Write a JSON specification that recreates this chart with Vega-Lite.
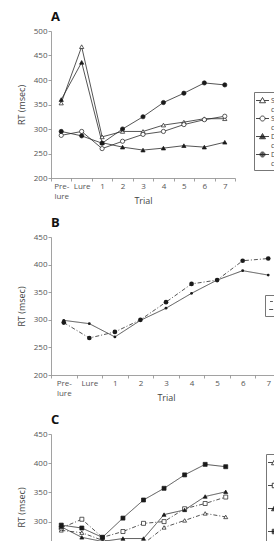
{
  "$schema": "https://vega.github.io/schema/vega-lite/v6.json",
  "padding": {"left": 17, "top": 11, "right": 0, "bottom": 0},
  "spacing": 12,
  "resolve": {
    "scale": {"shape": "independent", "fill": "independent", "strokeDash": "independent", "size": "independent"},
    "legend": {"shape": "independent", "fill": "independent", "strokeDash": "independent", "size": "independent"}
  },
  "config": {
    "view": {"stroke": null},
    "font": "Open Sans",
    "axis": {"domainColor": "#8a8a8a", "tickColor": "#8a8a8a", "domainWidth": 0.8, "tickWidth": 0.8, "tickSize": 3, "labelColor": "#555", "labelFontSize": 8, "labelPadding": 1, "titleFontSize": 9, "titleFontWeight": "normal", "titleColor": "#444", "grid": false},
    "title": {"anchor": "start", "frame": "group", "fontSize": 13, "fontWeight": "bold", "offset": 3, "color": "#111"},
    "legend": {"labelFontSize": 7, "labelColor": "#444", "strokeColor": "#777", "padding": 3, "labelOffset": 3, "title": null, "symbolStrokeWidth": 0.8}
  },
  "datasets": {
    "A": [
      {"t": "Pre-lure", "c": "Same|cue", "rt": 353}, {"t": "Lure", "c": "Same|cue", "rt": 468}, {"t": "1", "c": "Same|cue", "rt": 284}, {"t": "2", "c": "Same|cue", "rt": 295}, {"t": "3", "c": "Same|cue", "rt": 295}, {"t": "4", "c": "Same|cue", "rt": 308}, {"t": "5", "c": "Same|cue", "rt": 314}, {"t": "6", "c": "Same|cue", "rt": 321}, {"t": "7", "c": "Same|cue", "rt": 321},
      {"t": "Pre-lure", "c": "Same|context", "rt": 287}, {"t": "Lure", "c": "Same|context", "rt": 295}, {"t": "1", "c": "Same|context", "rt": 260}, {"t": "2", "c": "Same|context", "rt": 275}, {"t": "3", "c": "Same|context", "rt": 289}, {"t": "4", "c": "Same|context", "rt": 295}, {"t": "5", "c": "Same|context", "rt": 309}, {"t": "6", "c": "Same|context", "rt": 319}, {"t": "7", "c": "Same|context", "rt": 326},
      {"t": "Pre-lure", "c": "Different|cue", "rt": 360}, {"t": "Lure", "c": "Different|cue", "rt": 436}, {"t": "1", "c": "Different|cue", "rt": 272}, {"t": "2", "c": "Different|cue", "rt": 263}, {"t": "3", "c": "Different|cue", "rt": 257}, {"t": "4", "c": "Different|cue", "rt": 261}, {"t": "5", "c": "Different|cue", "rt": 266}, {"t": "6", "c": "Different|cue", "rt": 263}, {"t": "7", "c": "Different|cue", "rt": 273},
      {"t": "Pre-lure", "c": "Different|context", "rt": 295}, {"t": "Lure", "c": "Different|context", "rt": 286}, {"t": "1", "c": "Different|context", "rt": 271}, {"t": "2", "c": "Different|context", "rt": 300}, {"t": "3", "c": "Different|context", "rt": 325}, {"t": "4", "c": "Different|context", "rt": 354}, {"t": "5", "c": "Different|context", "rt": 373}, {"t": "6", "c": "Different|context", "rt": 394}, {"t": "7", "c": "Different|context", "rt": 390}
    ],
    "B": [
      {"t": "Pre-lure", "c": "Same", "rt": 299}, {"t": "Lure", "c": "Same", "rt": 293}, {"t": "1", "c": "Same", "rt": 269}, {"t": "2", "c": "Same", "rt": 299}, {"t": "3", "c": "Same", "rt": 321}, {"t": "4", "c": "Same", "rt": 348}, {"t": "5", "c": "Same", "rt": 372}, {"t": "6", "c": "Same", "rt": 389}, {"t": "7", "c": "Same", "rt": 381},
      {"t": "Pre-lure", "c": "Different", "rt": 295}, {"t": "Lure", "c": "Different", "rt": 267}, {"t": "1", "c": "Different", "rt": 278}, {"t": "2", "c": "Different", "rt": 300}, {"t": "3", "c": "Different", "rt": 332}, {"t": "4", "c": "Different", "rt": 365}, {"t": "5", "c": "Different", "rt": 372}, {"t": "6", "c": "Different", "rt": 407}, {"t": "7", "c": "Different", "rt": 411}
    ],
    "C": [
      {"t": "Pre-lure", "c": "Same|old", "rt": 285}, {"t": "Lure", "c": "Same|old", "rt": 281}, {"t": "1", "c": "Same|old", "rt": 268}, {"t": "2", "c": "Same|old", "rt": 262}, {"t": "3", "c": "Same|old", "rt": 262}, {"t": "4", "c": "Same|old", "rt": 290}, {"t": "5", "c": "Same|old", "rt": 302}, {"t": "6", "c": "Same|old", "rt": 314}, {"t": "7", "c": "Same|old", "rt": 308},
      {"t": "Pre-lure", "c": "Same|young", "rt": 289}, {"t": "Lure", "c": "Same|young", "rt": 304}, {"t": "1", "c": "Same|young", "rt": 273}, {"t": "2", "c": "Same|young", "rt": 283}, {"t": "3", "c": "Same|young", "rt": 297}, {"t": "4", "c": "Same|young", "rt": 300}, {"t": "5", "c": "Same|young", "rt": 322}, {"t": "6", "c": "Same|young", "rt": 331}, {"t": "7", "c": "Same|young", "rt": 342},
      {"t": "Pre-lure", "c": "Different|old", "rt": 291}, {"t": "Lure", "c": "Different|old", "rt": 273}, {"t": "1", "c": "Different|old", "rt": 266}, {"t": "2", "c": "Different|old", "rt": 271}, {"t": "3", "c": "Different|old", "rt": 271}, {"t": "4", "c": "Different|old", "rt": 312}, {"t": "5", "c": "Different|old", "rt": 320}, {"t": "6", "c": "Different|old", "rt": 343}, {"t": "7", "c": "Different|old", "rt": 351},
      {"t": "Pre-lure", "c": "Different|young", "rt": 294}, {"t": "Lure", "c": "Different|young", "rt": 289}, {"t": "1", "c": "Different|young", "rt": 273}, {"t": "2", "c": "Different|young", "rt": 306}, {"t": "3", "c": "Different|young", "rt": 337}, {"t": "4", "c": "Different|young", "rt": 357}, {"t": "5", "c": "Different|young", "rt": 380}, {"t": "6", "c": "Different|young", "rt": 398}, {"t": "7", "c": "Different|young", "rt": 394}
    ]
  },
  "vconcat": [
    {
      "title": {"text": "A"},
      "width": 184,
      "height": 147,
      "data": {"name": "A"},
      "encoding": {
        "x": {"field": "t", "type": "ordinal", "sort": ["Pre-lure", "Lure", "1", "2", "3", "4", "5", "6", "7"], "scale": {"type": "band", "paddingInner": 0, "paddingOuter": 0}, "axis": {"title": "Trial", "labelAngle": 0, "tickBand": "extent", "labelExpr": "datum.value == 'Pre-lure' ? ['Pre-', 'lure'] : datum.value", "labelLineHeight": 10, "titleY": 18, "titleBaseline": "top"}},
        "y": {"field": "rt", "type": "quantitative", "scale": {"domain": [200, 500], "nice": false, "zero": false}, "axis": {"title": "RT (msec)", "values": [200, 250, 300, 350, 400, 450, 500], "titlePadding": 7}}
      },
      "resolve": {"scale": {"shape": "independent"}, "legend": {"shape": "independent"}},
      "layer": [
        {"mark": {"type": "line", "color": "#2a2a2a", "strokeWidth": 0.8}, "encoding": {"detail": {"field": "c"}}},
        {
          "mark": {"type": "point", "filled": true, "stroke": "#1a1a1a", "strokeWidth": 0.7, "size": 18, "opacity": 1},
          "encoding": {
            "shape": {"field": "c", "type": "nominal", "scale": {"domain": ["Same|cue", "Same|context", "Different|cue", "Different|context"], "range": ["triangle-up", "circle", "triangle-up", "circle"]}, "legend": null},
            "fill": {"field": "c", "type": "nominal", "scale": {"domain": ["Same|cue", "Same|context", "Different|cue", "Different|context"], "range": ["white", "white", "#1a1a1a", "#1a1a1a"]}, "legend": null}
          }
        },
        {
          "transform": [{"filter": "datum.rt < 0"}],
          "mark": {"type": "point", "filled": false, "color": "#1a1a1a", "strokeWidth": 0.8, "opacity": 1},
          "encoding": {
            "shape": {"field": "c", "type": "nominal", "scale": {"domain": ["Same|cue", "Same|context", "Different|cue", "Different|context"], "range": [
              "M-1.3,0H-0.35M0.35,0H1.3M0,-0.6L0.6,0.45L-0.6,0.45Z",
              "M-1.3,0H-0.5M0.5,0H1.3M0.5,0A0.5,0.5 0 1,1 -0.5,0A0.5,0.5 0 1,1 0.5,0",
              "M-1.3,0H1.3M0,-0.6L0.6,0.45L-0.6,0.45ZM0,-0.36L0.4,0.33L-0.4,0.33ZM0,-0.13L0.2,0.22L-0.2,0.22Z",
              "M-1.3,0H1.3M0.5,0A0.5,0.5 0 1,1 -0.5,0A0.5,0.5 0 1,1 0.5,0M0.35,0A0.35,0.35 0 1,1 -0.35,0A0.35,0.35 0 1,1 0.35,0M0.2,0A0.2,0.2 0 1,1 -0.2,0A0.2,0.2 0 1,1 0.2,0M0.07,0A0.07,0.07 0 1,1 -0.07,0A0.07,0.07 0 1,1 0.07,0"]},
              "legend": {"orient": "none", "legendX": 203, "legendY": 61, "strokeColor": "#777", "symbolSize": 100, "symbolStrokeWidth": 0.8, "rowPadding": 0, "labelExpr": "split(datum.label, '|')"}}
          }
        }
      ]
    },
    {
      "title": {"text": "B"},
      "width": 230,
      "height": 138,
      "data": {"name": "B"},
      "encoding": {
        "x": {"field": "t", "type": "ordinal", "sort": ["Pre-lure", "Lure", "1", "2", "3", "4", "5", "6", "7"], "scale": {"type": "band", "paddingInner": 0, "paddingOuter": 0}, "axis": {"title": "Trial", "labelAngle": 0, "tickBand": "extent", "labelExpr": "datum.value == 'Pre-lure' ? ['Pre-', 'lure'] : datum.value", "labelLineHeight": 10, "titleY": 18, "titleBaseline": "top"}},
        "y": {"field": "rt", "type": "quantitative", "scale": {"domain": [200, 450], "nice": false, "zero": false}, "axis": {"title": "RT (msec)", "values": [200, 250, 300, 350, 400, 450], "titlePadding": 7}}
      },
      "layer": [
        {"mark": {"type": "line", "color": "#2a2a2a", "strokeWidth": 0.8},
          "encoding": {"strokeDash": {"field": "c", "type": "nominal", "scale": {"domain": ["Same", "Different"], "range": [[1, 0], [4, 2, 1, 2]]},
            "legend": {"orient": "none", "legendX": 214, "legendY": 58, "symbolType": "stroke", "symbolSize": 100, "symbolStrokeColor": "#2a2a2a", "symbolStrokeWidth": 0.8, "rowPadding": 0}}}},
        {"mark": {"type": "point", "filled": true, "color": "#1a1a1a", "opacity": 1},
          "encoding": {"size": {"field": "c", "type": "nominal", "scale": {"domain": ["Same", "Different"], "range": [8, 22]}, "legend": null}}}
      ]
    },
    {
      "title": {"text": "C"},
      "width": 185,
      "height": 146,
      "data": {"name": "C"},
      "encoding": {
        "x": {"field": "t", "type": "ordinal", "sort": ["Pre-lure", "Lure", "1", "2", "3", "4", "5", "6", "7"], "scale": {"type": "band", "paddingInner": 0, "paddingOuter": 0}, "axis": {"title": "Trial", "labelAngle": 0, "tickBand": "extent", "labelExpr": "datum.value == 'Pre-lure' ? ['Pre-', 'lure'] : datum.value", "labelLineHeight": 10, "titleY": 18, "titleBaseline": "top"}},
        "y": {"field": "rt", "type": "quantitative", "scale": {"domain": [200, 450], "nice": false, "zero": false}, "axis": {"title": "RT (msec)", "values": [200, 250, 300, 350, 400, 450], "titlePadding": 7}}
      },
      "resolve": {"scale": {"shape": "independent"}, "legend": {"shape": "independent"}},
      "layer": [
        {"mark": {"type": "line", "color": "#2a2a2a", "strokeWidth": 0.8},
          "encoding": {"strokeDash": {"field": "c", "type": "nominal", "scale": {"domain": ["Same|old", "Same|young", "Different|old", "Different|young"], "range": [[4, 2, 1, 2], [4, 2, 1, 2], [1, 0], [1, 0]]}, "legend": null}}},
        {
          "mark": {"type": "point", "filled": true, "stroke": "#1a1a1a", "strokeWidth": 0.7, "size": 16, "opacity": 1},
          "encoding": {
            "shape": {"field": "c", "type": "nominal", "scale": {"domain": ["Same|old", "Same|young", "Different|old", "Different|young"], "range": ["triangle-up", "square", "triangle-up", "square"]}, "legend": null},
            "fill": {"field": "c", "type": "nominal", "scale": {"domain": ["Same|old", "Same|young", "Different|old", "Different|young"], "range": ["white", "white", "#1a1a1a", "#1a1a1a"]}, "legend": null}
          }
        },
        {
          "transform": [{"filter": "datum.rt < 0"}],
          "mark": {"type": "point", "filled": false, "color": "#1a1a1a", "strokeWidth": 0.8, "opacity": 1},
          "encoding": {
            "shape": {"field": "c", "type": "nominal", "scale": {"domain": ["Same|old", "Same|young", "Different|old", "Different|young"], "range": [
              "M-1.3,0H-0.35M0.35,0H1.3M0,-0.6L0.6,0.45L-0.6,0.45Z",
              "M-1.3,0H-0.45M0.45,0H1.3M-0.45,-0.45H0.45V0.45H-0.45Z",
              "M-1.3,0H1.3M0,-0.6L0.6,0.45L-0.6,0.45ZM0,-0.36L0.4,0.33L-0.4,0.33ZM0,-0.13L0.2,0.22L-0.2,0.22Z",
              "M-1.3,0H1.3M-0.45,-0.45H0.45V0.45H-0.45ZM-0.3,-0.3H0.3V0.3H-0.3ZM-0.15,-0.15H0.15V0.15H-0.15Z"]},
              "legend": {"orient": "none", "legendX": 215, "legendY": 20, "strokeColor": "#777", "symbolSize": 100, "symbolStrokeWidth": 0.8, "rowPadding": 5, "labelExpr": "split(datum.label, '|')"}}
          }
        }
      ]
    }
  ]
}
